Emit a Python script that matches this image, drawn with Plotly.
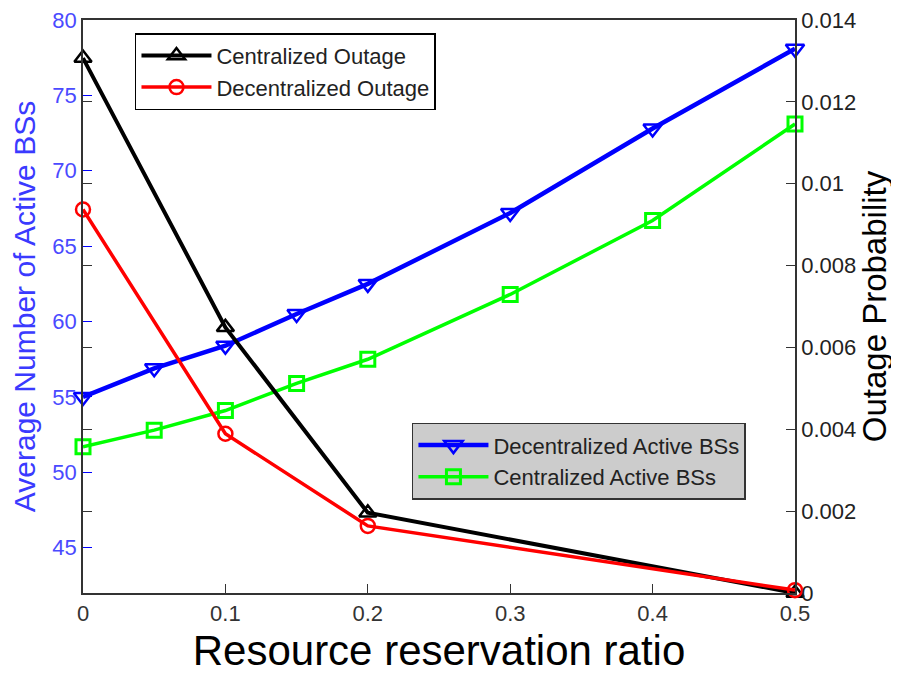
import plotly.graph_objects as go

# reservation ratio values
x_active = [0, 0.05, 0.1, 0.15, 0.2, 0.3, 0.4, 0.5]
x_outage = [0, 0.1, 0.2, 0.5]

# average number of active BSs (left axis)
decentral_bs = [55.0, 56.9, 58.4, 60.5, 62.5, 67.2, 72.8, 78.1]
central_bs = [51.7, 52.8, 54.1, 55.9, 57.5, 61.8, 66.7, 73.1]

# outage probability (right axis)
central_outage = [0.01307, 0.00649, 0.00196, 0.0]
decentral_outage = [0.00937, 0.00389, 0.00164, 0.00007]

x_ticks = [0, 0.1, 0.2, 0.3, 0.4, 0.5]
x_ticklabels = ["0", "0.1", "0.2", "0.3", "0.4", "0.5"]
y2_ticks = [0, 0.002, 0.004, 0.006, 0.008, 0.01, 0.012, 0.014]
y2_ticklabels = ["0", "0.002", "0.004", "0.006", "0.008", "0.01", "0.012", "0.014"]

FONT = "Liberation Sans, Arial, sans-serif"

fig = go.Figure()

fig.add_trace(go.Scatter(
    x=x_outage, y=central_outage, yaxis="y2", name="Centralized Outage",
    mode="lines+markers", legend="legend", cliponaxis=False,
    line=dict(color="black", width=4),
    marker=dict(symbol="triangle-up-open", size=15, color="black", line=dict(width=2.5, color="black")),
))
fig.add_trace(go.Scatter(
    x=x_outage, y=decentral_outage, yaxis="y2", name="Decentralized Outage",
    mode="lines+markers", legend="legend", cliponaxis=False,
    line=dict(color="red", width=3.5),
    marker=dict(symbol="circle-open", size=14, color="red", line=dict(width=2.5, color="red")),
))
fig.add_trace(go.Scatter(
    x=x_active, y=decentral_bs, name="Decentralized Active BSs",
    mode="lines+markers", legend="legend2", cliponaxis=False,
    line=dict(color="blue", width=4.5),
    marker=dict(symbol="triangle-down-open", size=16, color="blue", line=dict(width=2.5, color="blue")),
))
fig.add_trace(go.Scatter(
    x=x_active, y=central_bs, name="Centralized Active BSs",
    mode="lines+markers", legend="legend2", cliponaxis=False,
    line=dict(color="#00ff00", width=3.5),
    marker=dict(symbol="square-open", size=14, color="#00ff00", line=dict(width=3, color="#00ff00")),
))

# page body has an 8px margin, so the figure is sized to fit the window
fig.update_layout(
    width=891, height=666,
    margin=dict(l=75, r=104, t=12, b=81),
    paper_bgcolor="white", plot_bgcolor="white",
    font=dict(family=FONT, size=22, color="black"),
    xaxis=dict(
        range=[0, 0.5], tickvals=x_ticks, ticktext=x_ticklabels, automargin=False,
        ticklabeloverflow="allow",
        ticks="inside", ticklen=9, tickcolor="#333", showgrid=False, zeroline=False,
        showline=True, linecolor="#333", linewidth=1.5, mirror=True,
        tickfont=dict(size=22, color="#333"),
        title=dict(text="Resource reservation ratio", standoff=10,
                   font=dict(family=FONT, size=42, color="black")),
    ),
    yaxis=dict(
        range=[42, 80], tickvals=[45, 50, 55, 60, 65, 70, 75, 80], automargin=False,
        ticklabeloverflow="allow",
        ticks="inside", ticklen=9, tickcolor="blue", showgrid=False, zeroline=False,
        showline=True, linecolor="blue", linewidth=1.5,
        tickfont=dict(size=22, color="#4a4aff"),
        title=dict(text="Average Number of Active BSs", standoff=12,
                   font=dict(size=30, color="#3a3aff")),
    ),
    yaxis2=dict(
        range=[0, 0.014], tickvals=y2_ticks, ticktext=y2_ticklabels, automargin=False,
        ticklabeloverflow="allow",
        overlaying="y", side="right",
        ticks="inside", ticklen=9, tickcolor="#333", showgrid=False, zeroline=False,
        showline=True, linecolor="#333", linewidth=1.5, mirror="ticks",
        tickfont=dict(size=22, color="#222"),
        title=dict(text="Outage Probability", standoff=8, font=dict(size=33, color="black")),
    ),
    legend=dict(
        x=0.073, y=0.977, xanchor="left", yanchor="top", itemwidth=70,
        bgcolor="white", bordercolor="black", borderwidth=1.5,
        font=dict(size=22, color="#222"), tracegroupgap=0,
    ),
    legend2=dict(
        x=0.462, y=0.297, xanchor="left", yanchor="top", itemwidth=70,
        bgcolor="#cccccc", bordercolor="#333", borderwidth=1.5,
        font=dict(size=22, color="#222"), tracegroupgap=0,
    ),
)

fig.write_html("out.html")
